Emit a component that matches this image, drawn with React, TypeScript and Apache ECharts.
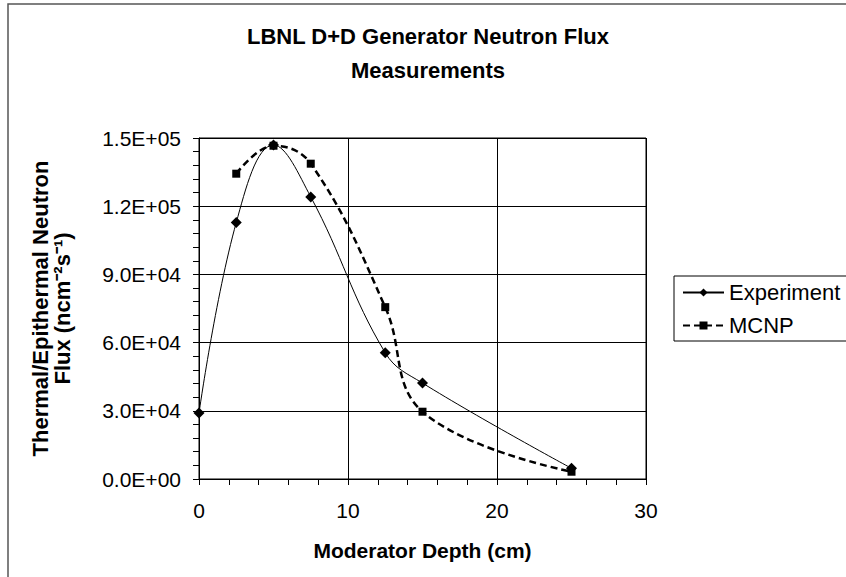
import React, { useEffect, useRef } from "react";
import * as echarts from "echarts";

const depthExp = [0, 2.5, 5, 7.5, 12.5, 15, 25];
const fluxExp = [29000, 112800, 146900, 124100, 55500, 42200, 4700];
const depthMcnp = [2.5, 5, 7.5, 12.5, 15, 25];
const fluxMcnp = [134300, 146600, 138700, 75600, 29600, 3200];
const xTicks = [0, 10, 20, 30];
const yTicks = [0, 30000, 60000, 90000, 120000, 150000];

function sci(v: number): string {
  if (v === 0) return "0.0E+00";
  const e = Math.floor(Math.log10(Math.abs(v)) + 1e-9);
  const m = v / Math.pow(10, e);
  const sign = e < 0 ? "-" : "+";
  const ae = Math.abs(e);
  return m.toFixed(1) + "E" + sign + (ae < 10 ? "0" + ae : String(ae));
}

export default function App() {
  const ref = useRef<HTMLDivElement>(null);
  useEffect(() => {
    if (!ref.current) return;
    const chart = echarts.init(ref.current, null, { renderer: "svg" });
    const font = "Arial, 'Liberation Sans', sans-serif";
    chart.setOption({
      animation: false,
      backgroundColor: "#fff",
      textStyle: { fontFamily: font },
      title: {
        text: "LBNL D+D Generator Neutron Flux\nMeasurements",
        left: 423,
        textAlign: "center",
        top: 14,
        textStyle: { fontSize: 22, fontWeight: "bold", color: "#000", lineHeight: 34, fontFamily: font },
      },
      graphic: [
        {
          type: "rect",
          shape: { x: 8, y: 4, width: 1000, height: 800 },
          style: { fill: "none", stroke: "#555", lineWidth: 1.5 },
          silent: true,
        },
      ],
      legend: {
        orient: "vertical",
        left: 674,
        top: 276,
        padding: [4, 12, 3, 8],
        itemGap: 8,
        itemWidth: 41,
        itemHeight: 10,
        borderColor: "#000",
        borderWidth: 1,
        textStyle: { fontSize: 22, color: "#000", fontFamily: font, lineHeight: 25 },
        data: ["Experiment", "MCNP"],
      },
      grid: {
        left: 199,
        right: 200,
        top: 138,
        bottom: 98,
        show: true,
        borderColor: "#000",
        borderWidth: 1,
        containLabel: false,
      },
      xAxis: {
        type: "value",
        min: xTicks[0],
        max: xTicks[xTicks.length - 1],
        interval: 10,
        name: "Moderator Depth (cm)",
        nameLocation: "middle",
        nameGap: 61,
        nameTextStyle: { fontSize: 21, fontWeight: "bold", color: "#000", fontFamily: font },
        axisLine: { show: true, lineStyle: { color: "#000", width: 1 } },
        axisTick: { show: true, inside: false, length: 6, lineStyle: { color: "#000" } },
        minorTick: { show: true, splitNumber: 5, length: 6, lineStyle: { color: "#000" } },
        axisLabel: { fontSize: 21, color: "#000", margin: 21, fontFamily: font },
        splitLine: { show: true, lineStyle: { color: "#000", width: 1 } },
      },
      yAxis: {
        type: "value",
        min: yTicks[0],
        max: yTicks[yTicks.length - 1],
        interval: 30000,
        name: "Thermal/Epithermal Neutron\nFlux (ncm⁻²s⁻¹)",
        nameLocation: "middle",
        nameGap: 126,
        nameTextStyle: { fontSize: 22, fontWeight: "bold", color: "#000", lineHeight: 22, fontFamily: font },
        axisLine: { show: true, lineStyle: { color: "#000", width: 1 } },
        axisTick: { show: true, inside: false, length: 6, lineStyle: { color: "#000" } },
        minorTick: { show: true, splitNumber: 5, length: 6, lineStyle: { color: "#000" } },
        axisLabel: { fontSize: 21, color: "#000", margin: 18, formatter: (v: number) => sci(v), fontFamily: font },
        splitLine: { show: true, lineStyle: { color: "#000", width: 1 } },
      },
      series: [
        {
          name: "Experiment",
          type: "line",
          data: depthExp.map((d, i) => [d, fluxExp[i]]),
          smooth: 0.4,
          symbol: "diamond",
          symbolSize: 11,
          itemStyle: { color: "#000" },
          lineStyle: { color: "#000", width: 1 },
          z: 3,
        },
        {
          name: "MCNP",
          type: "line",
          data: depthMcnp.map((d, i) => [d, fluxMcnp[i]]),
          smooth: 0.4,
          symbol: "rect",
          symbolSize: 8,
          itemStyle: { color: "#000" },
          lineStyle: { color: "#000", width: 2.5, type: [7, 4] },
          z: 2,
        },
      ],
    });
    return () => chart.dispose();
  }, []);
  return (
    <div
      ref={ref}
      style={{ position: "fixed", left: 0, top: 0, width: 846, height: 577 }}
    />
  );
}
